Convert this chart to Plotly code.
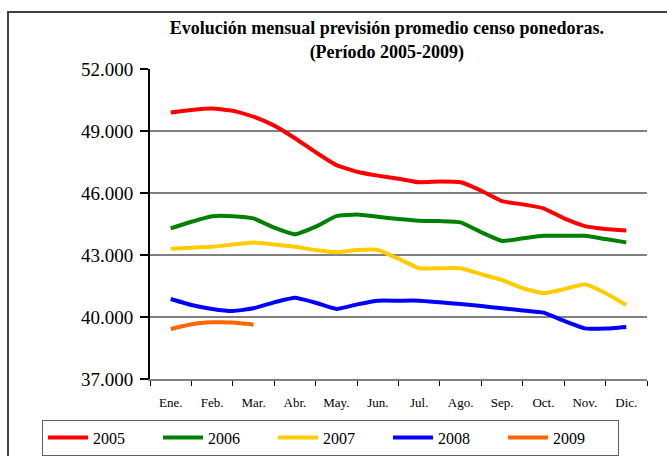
import plotly.graph_objects as go

months = ["Ene.", "Feb.", "Mar.", "Abr.", "May.", "Jun.", "Jul.", "Ago.", "Sep.", "Oct.", "Nov.", "Dic."]
# half-month positions (0 = Ene., 11 = Dic.)
x_half = [0, 0.5, 1, 1.5, 2, 2.5, 3, 3.5, 4, 4.5, 5, 5.5, 6, 6.5, 7, 7.5, 8, 8.5, 9, 9.5, 10, 10.5, 11]

y2005 = [49900, 50020, 50090, 49980, 49690, 49260, 48650, 47970, 47350, 47030, 46840, 46690,
         46520, 46560, 46520, 46110, 45610, 45450, 45260, 44770, 44400, 44260, 44190]
y2006 = [44290, 44610, 44880, 44880, 44770, 44320, 44000, 44370, 44880, 44960, 44850, 44740,
         44660, 44640, 44580, 44100, 43680, 43810, 43930, 43930, 43930, 43770, 43610]
y2007 = [43300, 43350, 43400, 43510, 43610, 43510, 43400, 43240, 43130, 43240, 43240, 42820,
         42360, 42360, 42360, 42070, 41790, 41390, 41150, 41350, 41580, 41150, 40580]
y2008 = [40870, 40580, 40390, 40290, 40420, 40710, 40930, 40690, 40390, 40610, 40790, 40790,
         40790, 40710, 40630, 40530, 40420, 40320, 40210, 39810, 39450, 39440, 39520]
y2009 = [39420, 39650, 39740, 39730, 39630]

series = [
    ("2005", y2005, "#FF0000"),
    ("2006", y2006, "#008000"),
    ("2007", y2007, "#FFCC00"),
    ("2008", y2008, "#0000FF"),
    ("2009", y2009, "#FF6600"),
]

y_ticks = [37000, 40000, 43000, 46000, 49000, 52000]

fig = go.Figure()
for name, vals, color in series:
    fig.add_trace(go.Scatter(
        x=x_half[:len(vals)], y=vals, name=name, mode="lines",
        line=dict(color=color, width=4, shape="spline", smoothing=0.4),
    ))

serif = "Liberation Serif, Times New Roman, serif"

fig.update_layout(
    width=667, height=456,
    paper_bgcolor="white", plot_bgcolor="white",
    margin=dict(l=150, r=20, t=69, b=77, autoexpand=False),
    separators=",.",
    title=dict(
        text="<b>Evolución mensual previsión promedio censo ponedoras.<br>(Período 2005-2009)</b>",
        font=dict(family=serif, size=18, color="black"),
        xref="container", x=0.58, xanchor="center",
        yref="container", y=0.925, yanchor="top",
    ),
    xaxis=dict(
        range=[-0.5, 11.5],
        tickmode="array", tickvals=list(range(12)), ticktext=months,
        ticks="", showgrid=False, zeroline=False,
        showline=True, linecolor="#808080", linewidth=2,
        ticklabelstandoff=10,
        tickfont=dict(family=serif, size=13, color="black"),
        minor=dict(tickmode="linear", tick0=-0.5, dtick=1, ticks="outside",
                   ticklen=5, tickwidth=1, tickcolor="black", showgrid=False),
    ),
    yaxis=dict(
        range=[37000, 52000], tickmode="array", tickvals=y_ticks,
        tickformat=",d",
        ticks="outside", ticklen=8, tickwidth=2, tickcolor="black",
        showline=True, linecolor="black", linewidth=2,
        showgrid=True, gridcolor="#808080", gridwidth=1.5, zeroline=False,
        ticklabelstandoff=3,
        tickfont=dict(family=serif, size=19, color="black"),
    ),
    legend=dict(
        orientation="h", x=-0.2173, xanchor="left", y=-0.131, yanchor="top",
        bordercolor="#606060", borderwidth=1, bgcolor="white",
        font=dict(family=serif, size=16, color="black"),
        entrywidth=60, entrywidthmode="pixels",
        itemwidth=40, tracegroupgap=0,
    ),
    shapes=[
        dict(type="rect", xref="paper", yref="paper",
             x0=-0.2857, x1=1.5, y0=-1.0, y1=1.1839,
             line=dict(color="#404040", width=2), fillcolor="rgba(0,0,0,0)",
             layer="below"),
    ],
)

fig.write_html("out.html", config={"displayModeBar": False},
               post_script="document.body.style.margin='0';")
